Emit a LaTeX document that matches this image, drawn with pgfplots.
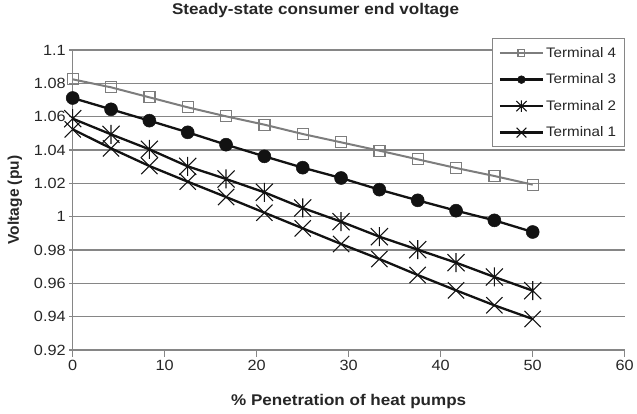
\documentclass[border=0pt]{standalone}
\usepackage{fontspec}
\setmainfont{Liberation Sans}[FakeStretch=1.1]
\newfontfamily\vfont{Liberation Sans}
\usepackage{pgfplots}
\pgfplotsset{compat=1.18}
\definecolor{gridgray}{RGB}{134,134,134}
\definecolor{t4gray}{RGB}{125,125,125}
\definecolor{ink}{RGB}{18,18,18}
\pgfdeclareplotmark{xstar}{%
  \pgfpathmoveto{\pgfqpoint{-.9\pgfplotmarksize}{-.9\pgfplotmarksize}}%
  \pgfpathlineto{\pgfqpoint{.9\pgfplotmarksize}{.9\pgfplotmarksize}}%
  \pgfpathmoveto{\pgfqpoint{-.9\pgfplotmarksize}{.9\pgfplotmarksize}}%
  \pgfpathlineto{\pgfqpoint{.9\pgfplotmarksize}{-.9\pgfplotmarksize}}%
  \pgfpathmoveto{\pgfqpoint{0pt}{-\pgfplotmarksize}}%
  \pgfpathlineto{\pgfqpoint{0pt}{\pgfplotmarksize}}%
  \pgfusepathqstroke}
\pgfplotstableread{
x      t4      t3      t2      t1
0       1.0824  1.0712  1.0588  1.0524
4.1667  1.0776  1.0644  1.0494  1.0410
8.3333  1.0716  1.0576  1.0404  1.0304
12.5    1.0656  1.0506  1.0302  1.0210
16.6667 1.0602  1.0432  1.0226  1.0118
20.8333 1.0552  1.0362  1.0146  1.0024
25      1.0496  1.0294  1.0052  0.9930
29.1667 1.0446  1.0232  0.9970  0.9836
33.3333 1.0396  1.0162  0.9880  0.9746
37.5    1.0344  1.0098  0.9802  0.9650
41.6667 1.0292  1.0036  0.9724  0.9558
45.8333 1.0244  0.9978  0.9638  0.9468
50      1.0192  0.9908  0.9556  0.9386
}\voltdata
\begin{document}
\begin{tikzpicture}[x=1pt,y=1pt]
\path[use as bounding box] (-72.7,-64) rectangle (564.3,350);
\begin{axis}[
  at={(0,0)}, anchor=south west,
  scale only axis, width=552pt, height=300pt,
  xmin=0, xmax=60, ymin=0.92, ymax=1.1,
  axis x line*=bottom, axis y line*=left,
  axis line style={gridgray, line width=1.2pt, -},
  xtick={0,10,20,30,40,50,60},
  xticklabels={0,10,20,30,40,50,60},
  ytick={0.92,0.94,0.96,0.98,1,1.02,1.04,1.06,1.08,1.1},
  yticklabels={0.92,0.94,0.96,0.98,1,1.02,1.04,1.06,1.08,1.1},
  ymajorgrids, major grid style={gridgray, line width=1.2pt},
  xtick align=outside, ytick align=center,
  major tick length=7pt,
  tick style={gridgray, line width=1.2pt},
  ticklabel style={font=\fontsize{14.8}{16}\selectfont, text=black!85},
  title={Steady-state consumer end voltage},
  title style={at={(axis description cs:0.44,1.11)}, anchor=center,
    font=\bfseries\fontsize{15.5}{18}\selectfont, text=black!85},
  xlabel={\% Penetration of heat pumps},
  xlabel style={at={(axis description cs:0.5,-0.172)}, anchor=center,
    font=\bfseries\fontsize{15.5}{18}\selectfont, text=black!85},
  ylabel={\vfont\bfseries Voltage (pu)},
  ylabel style={at={(axis description cs:-0.1045,0.5)}, anchor=center, rotate=0,
    font=\fontsize{15.5}{18}\selectfont, text=black!85},
  legend style={at={(1,1.039)}, anchor=north east, draw=gridgray,
    line width=1.2pt, fill=white, font=\fontsize{13.8}{15}\selectfont,
    text=black!85, row sep=11pt, inner xsep=6pt, inner ysep=6.5pt},
  legend cell align=left,
  legend image code/.code={\draw[mark repeat=2,mark phase=2,#1]
    plot coordinates {(0pt,0pt) (21.5pt,0pt) (43pt,0pt)};},
  legend image post style={/tikz/every mark/.append style={scale=0.6}},
  clip=false,
]
\addplot[t4gray, line width=2pt, mark=square, mark size=5.5pt,
  mark options={draw=t4gray, fill=white, line width=1.3pt}]
  table[x=x, y=t4] {\voltdata};
\addlegendentry{Terminal 4}
\addplot[ink, line width=2.3pt, mark=*, mark size=6.5pt,
  mark options={draw=ink, fill=ink, line width=0.5pt}]
  table[x=x, y=t3] {\voltdata};
\addlegendentry{Terminal 3}
\addplot[ink, line width=2.3pt, mark=xstar, mark size=9.5pt,
  mark options={draw=ink, line width=1.1pt}]
  table[x=x, y=t2] {\voltdata};
\addlegendentry{Terminal 2}
\addplot[ink, line width=2.3pt, mark=x, mark size=11.5pt,
  mark options={draw=ink, line width=1.1pt}]
  table[x=x, y=t1] {\voltdata};
\addlegendentry{Terminal 1}
\end{axis}
\end{tikzpicture}
\end{document}
